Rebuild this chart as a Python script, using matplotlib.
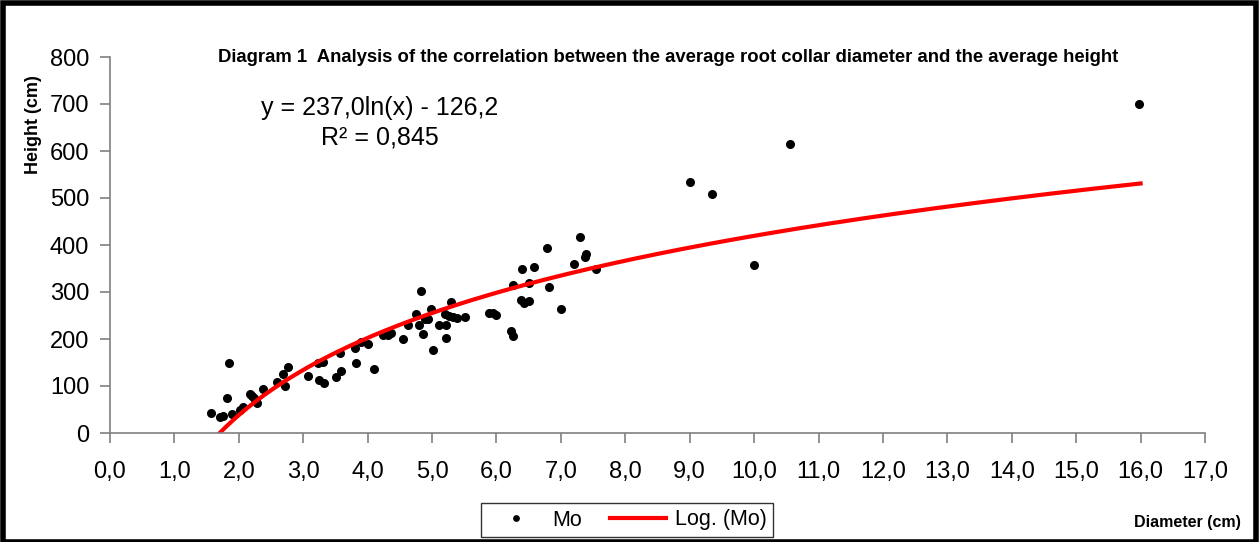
import numpy as np
import matplotlib
matplotlib.use('Agg')
import matplotlib.pyplot as plt
from matplotlib.patches import Rectangle

#region Data.
diameter = [1.57, 1.71, 1.76, 1.89, 1.81, 1.85, 2.02, 2.07, 2.17, 2.20, 2.23, 2.26, 2.28,
            2.38, 2.60, 2.68, 2.72, 2.76, 3.08, 3.25, 3.33, 3.23, 3.31, 3.51, 3.59, 3.57,
            3.82, 3.80, 3.90, 4.01, 4.10, 4.24, 4.28, 4.32, 4.37, 4.55, 4.63, 4.75, 4.79,
            4.83, 4.86, 4.89, 4.94, 4.99, 5.01, 5.11, 5.21, 5.21, 5.20, 5.29, 5.26, 5.33,
            5.39, 5.51, 5.89, 5.95, 6.00, 6.22, 6.26, 6.25, 6.39, 6.38, 6.42, 6.51, 6.51,
            6.59, 6.79, 6.81, 7.00, 7.20, 7.30, 7.39, 7.38, 7.55, 9.00, 9.34, 10.00, 10.56,
            15.98]
height = [43, 35, 37, 40, 75, 150, 49, 55, 82, 78, 75, 68, 63,
          94, 108, 126, 100, 141, 121, 113, 106, 148, 152, 120, 132, 170,
          150, 180, 194, 189, 136, 208, 212, 208, 213, 201, 230, 253, 230,
          303, 210, 242, 242, 263, 177, 230, 230, 203, 253, 278, 250, 246,
          245, 247, 255, 256, 251, 216, 206, 315, 350, 283, 276, 281, 320,
          354, 394, 311, 264, 359, 416, 380, 374, 349, 534, 509, 357, 615,
          701]
fit_a = 237.0      # y = a*ln(x) + b
fit_b = -126.2
r2 = 0.845
x_ticks = np.arange(0, 18, 1)
y_ticks = np.arange(0, 900, 100)
#endregion

plt.rcParams['font.family'] = ['Liberation Sans', 'DejaVu Sans']

fig = plt.figure(figsize=(12.6, 5.42), dpi=100)
ax = fig.add_axes([110/1260, 1-433/542, 1095/1260, 376/542])

#region Scatter and logarithmic trendline.
ax.plot(diameter, height, 'o', color='black', markersize=5.5, label='Mo', clip_on=False)
x_fit = np.linspace(np.exp(-fit_b/fit_a), 16, 300)
ax.plot(x_fit, fit_a*np.log(x_fit) + fit_b, '-', color='#ff0000', linewidth=3, label='Log. (Mo)')
#endregion

#region Axes styling.
ax.set_xlim(0, 17)
ax.set_ylim(0, 800)
ax.set_xticks(x_ticks)
ax.set_xticklabels(['%d,0' % v for v in x_ticks])
ax.set_yticks(y_ticks)
for s in ['top', 'right']:
    ax.spines[s].set_visible(False)
for s in ['left', 'bottom']:
    ax.spines[s].set_color('#808080')
    ax.spines[s].set_linewidth(1.2)
ax.tick_params(axis='both', direction='out', length=7, width=1.2, color='#808080',
               labelsize=17, labelcolor='black')
ax.tick_params(axis='x', pad=13)
ax.tick_params(axis='y', pad=8)
#endregion

#region Texts.
fig.text(668/1260, 1-57/542, 'Diagram 1  Analysis of the correlation between the average root collar diameter and the average height',
         ha='center', va='center', fontsize=13.3, fontweight='bold')
fig.text(380/1260, 1-108/542, 'y = 237,0ln(x) - 126,2', ha='center', va='center', fontsize=18)
fig.text(380/1260, 1-137/542, 'R² = 0,845', ha='center', va='center', fontsize=18)
fig.text(33/1260, 1-125/542, 'Height (cm)', ha='center', va='center', rotation=90,
         fontsize=13, fontweight='bold')
fig.text(1187/1260, 1-522/542, 'Diameter (cm)', ha='center', va='center',
         fontsize=11.5, fontweight='bold')
#endregion

leg = fig.legend(loc='center', bbox_to_anchor=(627/1260, 1-520/542), ncol=2, frameon=True,
                 fancybox=False, edgecolor='black', prop={'size': 15.5},
                 markerscale=0.7, handlelength=2.6, columnspacing=1.3, handletextpad=0.4,
                 borderpad=0.3)
leg.get_frame().set_linewidth(1.0)

# frame round the whole picture
fig.patches.append(Rectangle((0.002, 0.0), 0.995, 0.995, transform=fig.transFigure,
                             fill=False, edgecolor='black', linewidth=4))

fig.savefig('out.png', dpi=100)
